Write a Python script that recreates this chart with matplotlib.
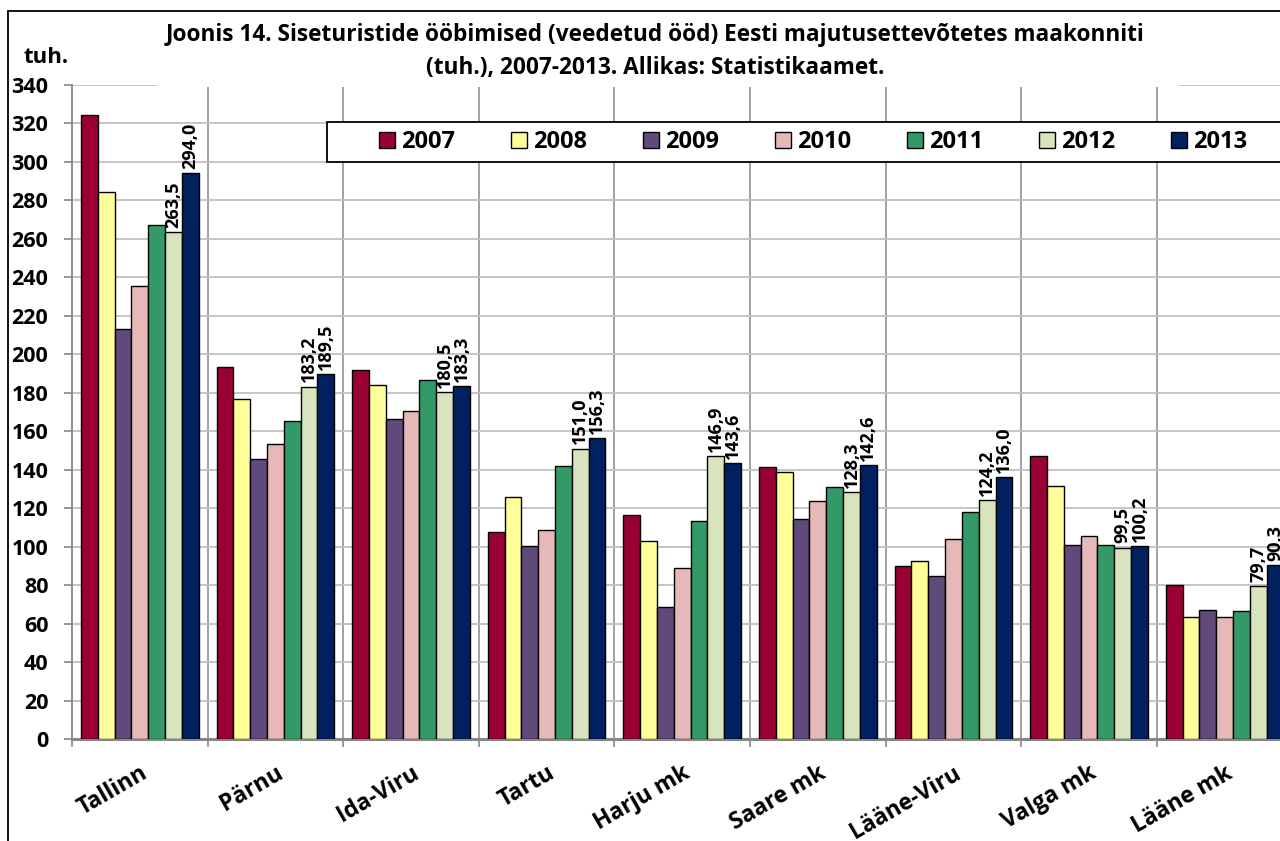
import matplotlib
matplotlib.use("Agg")
import matplotlib.pyplot as plt
from matplotlib.patches import Rectangle
import numpy as np

plt.rcParams['font.family'] = ['Open Sans', 'DejaVu Sans']

regions = ["Tallinn", "Pärnu", "Ida-Viru", "Tartu", "Harju mk",
           "Saare mk", "Lääne-Viru", "Valga mk", "Lääne mk"]
years = ["2007", "2008", "2009", "2010", "2011", "2012", "2013"]

v2007 = [324.6, 193.4, 191.8, 107.8, 116.3, 141.6, 89.8, 147.0, 79.9]
v2008 = [284.5, 177.0, 184.0, 126.0, 103.1, 138.7, 92.5, 131.5, 63.3]
v2009 = [213.3, 145.5, 166.2, 100.3, 68.5, 114.5, 84.6, 100.7, 67.1]
v2010 = [235.5, 153.2, 170.3, 108.7, 88.7, 123.6, 103.8, 105.4, 63.3]
v2011 = [267.2, 165.2, 186.6, 141.9, 113.3, 131.2, 118.0, 100.8, 66.7]
v2012 = [263.5, 183.2, 180.5, 151.0, 146.9, 128.3, 124.2, 99.5, 79.7]
v2013 = [294.0, 189.5, 183.3, 156.3, 143.6, 142.6, 136.0, 100.2, 90.3]
series = [v2007, v2008, v2009, v2010, v2011, v2012, v2013]
colors = ["#990033", "#FFFF99", "#604A7B", "#E6B9B8", "#339966", "#D7E4BD", "#002060"]
labelled = ["2012", "2013"]

W, H = 1280, 841
fig = plt.figure(figsize=(12.8, 8.41), dpi=100)
ax = fig.add_axes([72 / W, 1 - 739 / H, (1292.5 - 72) / W, (739 - 85) / H])

x = np.arange(len(regions))
bw = 0.124
for j, (yr, vals, c) in enumerate(zip(years, series, colors)):
    pos = x + (j - 3) * bw
    bars = ax.bar(pos, vals, bw, color=c, edgecolor="black", linewidth=1.0,
                  label=yr, zorder=3)
    if yr in labelled:
        for b, v in zip(bars, vals):
            ax.annotate(f"{v:.1f}".replace(".", ","),
                        (b.get_x() + b.get_width() / 2, v),
                        xytext=(0, 3), textcoords="offset points",
                        rotation=90, ha="center", va="bottom",
                        fontsize=13, fontweight="bold", zorder=6,
                        annotation_clip=False)

ax.set_xlim(-0.5, len(regions) - 0.5)
ax.set_ylim(0, 340)
ax.set_yticks(np.arange(0, 341, 20))
ax.yaxis.grid(True, color="#C0C0C0", linewidth=1.3, zorder=0)
for b in np.arange(0.5, len(regions), 1):
    ax.axvline(b, color="#9A9A9A", linewidth=1.3, zorder=1)

ax.set_xticks(x)
ax.set_xticklabels(regions, rotation=30, ha="right", rotation_mode="anchor",
                   fontsize=16.5, fontweight="bold")
ax.set_xticks(np.arange(-0.5, len(regions), 1), minor=True)
ax.tick_params(axis="x", which="major", length=0, pad=16)
ax.tick_params(axis="x", which="minor", length=6, width=1.2, color="#868686")
ax.tick_params(axis="y", length=6, width=1.2, color="#868686", pad=11)
for lab in ax.get_yticklabels():
    lab.set_fontsize(15.5)
    lab.set_fontweight("bold")

for s in ["top", "right"]:
    ax.spines[s].set_visible(False)
ax.spines["left"].set_color("#868686")
ax.spines["left"].set_linewidth(1.3)
ax.spines["bottom"].set_color("#868686")
ax.spines["bottom"].set_linewidth(2.2)

# legend frame reaches past the right edge
ax.add_patch(Rectangle((0.209, 0.8823), 1.0, 0.0612, transform=ax.transAxes,
                       facecolor="white", edgecolor="black", linewidth=1.3,
                       zorder=7, clip_on=False))
leg = ax.legend(loc="center left", bbox_to_anchor=((379 - 72) / 1220.5, (739 - 142) / 654),
                ncol=7, frameon=False, borderpad=0, borderaxespad=0,
                handlelength=0.68, handleheight=0.65, handletextpad=0.25,
                columnspacing=2.37, prop={"size": 17, "weight": "bold"})
leg.set_zorder(8)

# white title area hides the top gridline
fig.patches.append(Rectangle((157 / W, 1 - 87 / H), (1179 - 157) / W, 70 / H,
                             transform=fig.transFigure, facecolor="white",
                             edgecolor="none", zorder=2))
fig.text(655 / W, 1 - 41 / H,
         "Joonis 14. Siseturistide ööbimised (veedetud ööd) Eesti majutusettevõtetes maakonniti",
         ha="center", va="baseline", fontsize=16.3, fontweight="bold", zorder=3)
fig.text(655 / W, 1 - 74 / H, "(tuh.), 2007-2013. Allikas: Statistikaamet.",
         ha="center", va="baseline", fontsize=16.3, fontweight="bold", zorder=3)
fig.text(24 / W, 1 - 63 / H, "tuh.", ha="left", va="baseline",
         fontsize=16, fontweight="bold")

# chart border, only left and top edges fall inside the picture
fig.patches.append(Rectangle((8 / W, -0.1), 1.2, 1.1 - 11 / H, transform=fig.transFigure,
                             facecolor="none", edgecolor="black", linewidth=1.3, zorder=4))

fig.savefig("out.png", dpi=100)
